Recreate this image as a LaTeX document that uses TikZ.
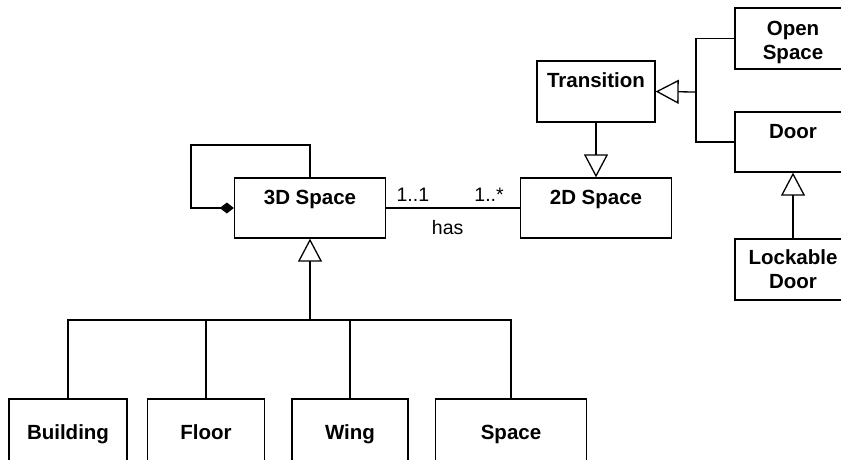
\documentclass[tikz,border=0pt]{standalone}
\usepackage{fontspec}
\setmainfont{Liberation Sans}
\usetikzlibrary{arrows.meta,positioning}

\begin{document}
\begin{tikzpicture}[x=1pt,y=-1pt,line width=1.3pt,
every node/.style={font=\fontsize{19.5}{23.5}\selectfont},
umlbox/.style={draw,rectangle,font=\fontsize{20.5}{24}\selectfont\bfseries,
  inner xsep=0pt,align=center},
onebox/.style={umlbox,text height=14pt,text depth=22pt,inner ysep=12pt},
twobox/.style={umlbox,minimum height=61pt,inner ysep=0pt},
lowbox/.style={umlbox,text height=14pt,text depth=5pt,minimum height=71pt,inner ysep=0pt},
gen/.style={-{Triangle[open,length=23pt,width=24pt]}},
comp/.style={-{Diamond[length=14pt,width=11pt]}}]
\useasboundingbox (0,0) rectangle (841,459);
% classes
\node[onebox,minimum width=151pt] (S3D) at (310,208) {3D Space};
\node[onebox,minimum width=151pt] (S2D) at (596,208) {2D Space};
\node[onebox,minimum width=118pt,text depth=23pt] (Tr) at (596,91.5) {Transition};
\node[twobox,minimum width=116pt] (OS) at (793,38.5) {\rule{0pt}{22pt}Open\\Space};
\node[onebox,minimum width=116pt] (Dr) at (793,142) {Door};
\node[twobox,minimum width=116pt] (LD) at (793,269.5) {Lockable\\Door};
\node[lowbox,minimum width=118pt] (Bd) at (68,434.5) {Building};
\node[lowbox,minimum width=117pt] (Fl) at (206,434.5) {Floor};
\node[lowbox,minimum width=116pt] (Wg) at (350,434.5) {Wing};
\node[lowbox,minimum width=151pt] (Sp) at (511,434.5) {Space};
% junctions
\coordinate (J1) at (696,92);
\coordinate (J2) at (310,320);
% links
\draw[comp] (S3D.north) |- (191,145) |- (S3D.west);
\draw (S3D.east) -- node[pos=0.2,above=3pt] {1..1}
  node[pos=0.77,above=3pt] {1..*}
  node[pos=0.46,below=8pt] {has} (S2D.west);
\draw[gen] (Tr.south) -- (S2D.north);
\draw (OS.west) -| (J1) |- (Dr.west);
\draw[gen] (J1) -- (Tr.east);
\draw[gen] (LD.north) -- (Dr.south);
\draw[gen] (J2) -- (S3D.south);
\foreach \c in {Bd,Fl,Wg,Sp}
  \draw (J2) -| (\c.north);
\end{tikzpicture}
\end{document}
